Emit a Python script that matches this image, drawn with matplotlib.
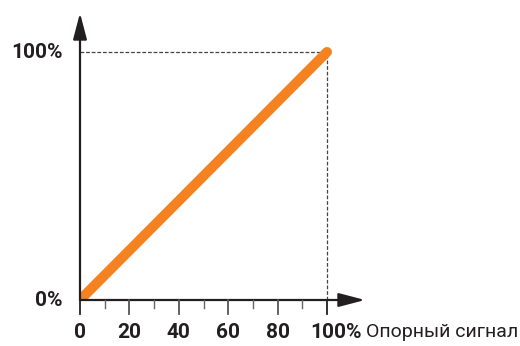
import matplotlib
matplotlib.use('Agg')
import matplotlib.pyplot as plt

plt.rcParams['font.family'] = ['Roboto', 'DejaVu Sans']

# data
ref_signal = [0, 100]
output = [0, 100]
major_ticks = [0, 20, 40, 60, 80, 100]
major_labels = ['0', '20', '40', '60', '80', '100%']
minor_ticks = [10, 30, 50, 70, 90]
y_ticks = [0, 100]
y_labels = ['0%', '100%']
x_title = 'Опорный сигнал'

W, H = 520, 346
fig = plt.figure(figsize=(W / 100, H / 100), dpi=100)

# axes origin at pixel (80, 300), 100% at (327, 52)
x0, y0 = 80, 300
sx = (327 - 80) / 100
sy = (300 - 52) / 100
xmax = (365 - x0) / sx
ymax = (y0 - 13) / sy
ax = fig.add_axes([x0 / W, (H - y0) / H, (365 - x0) / W, (y0 - 13) / H])
ax.set_xlim(0, xmax)
ax.set_ylim(0, ymax)
for s in ax.spines.values():
    s.set_visible(False)
ax.set_xticks([])
ax.set_yticks([])

dark = '#231f20'

# dashed guides
ax.plot([ref_signal[-1]] * 2, [0, output[-1]], ls=(0, (3, 1.5)), color='#444444', lw=0.9, zorder=2)
ax.plot([0, ref_signal[-1]], [output[-1]] * 2, ls=(0, (3, 1.5)), color='#444444', lw=0.9, zorder=2)

# main line
ax.plot(ref_signal, output, color='#f58220', lw=7.2, solid_capstyle='round', zorder=3)

# axis arrows
arrow = dict(arrowstyle='-|>,head_length=1.6,head_width=0.42', mutation_scale=10,
             color=dark, lw=1.6, shrinkA=0, shrinkB=0)
ax.annotate('', xy=(xmax, 0), xytext=(0, 0), arrowprops=arrow, annotation_clip=False, zorder=4)
ax.annotate('', xy=(0, ymax), xytext=(0, 0), arrowprops=arrow, annotation_clip=False, zorder=4)

# x ticks
for t in minor_ticks:
    ax.plot([t, t], [0, -8 / sy], color='#666666', lw=1.0, clip_on=False, zorder=4)
for t, lab in zip(major_ticks, major_labels):
    c = dark if t in (0, 100) else '#555555'
    ax.plot([t, t], [0, -14 / sy], color=c, lw=1.3, clip_on=False, zorder=4)
    dx = 9 / sx if lab.endswith('%') else 0
    ax.text(t + dx, -32 / sy, lab, ha='center', va='center', fontsize=15,
            fontweight='bold', color=dark, clip_on=False)

ax.text(ref_signal[-1] + 39 / sx, -32 / sy, x_title, ha='left', va='center',
        fontsize=14, color=dark, clip_on=False)

# y labels
for t, lab in zip(y_ticks, y_labels):
    ax.text(-17 / sx, t, lab, ha='right', va='center', fontsize=15,
            fontweight='bold', color=dark, clip_on=False)

fig.savefig('out.png', dpi=100)
